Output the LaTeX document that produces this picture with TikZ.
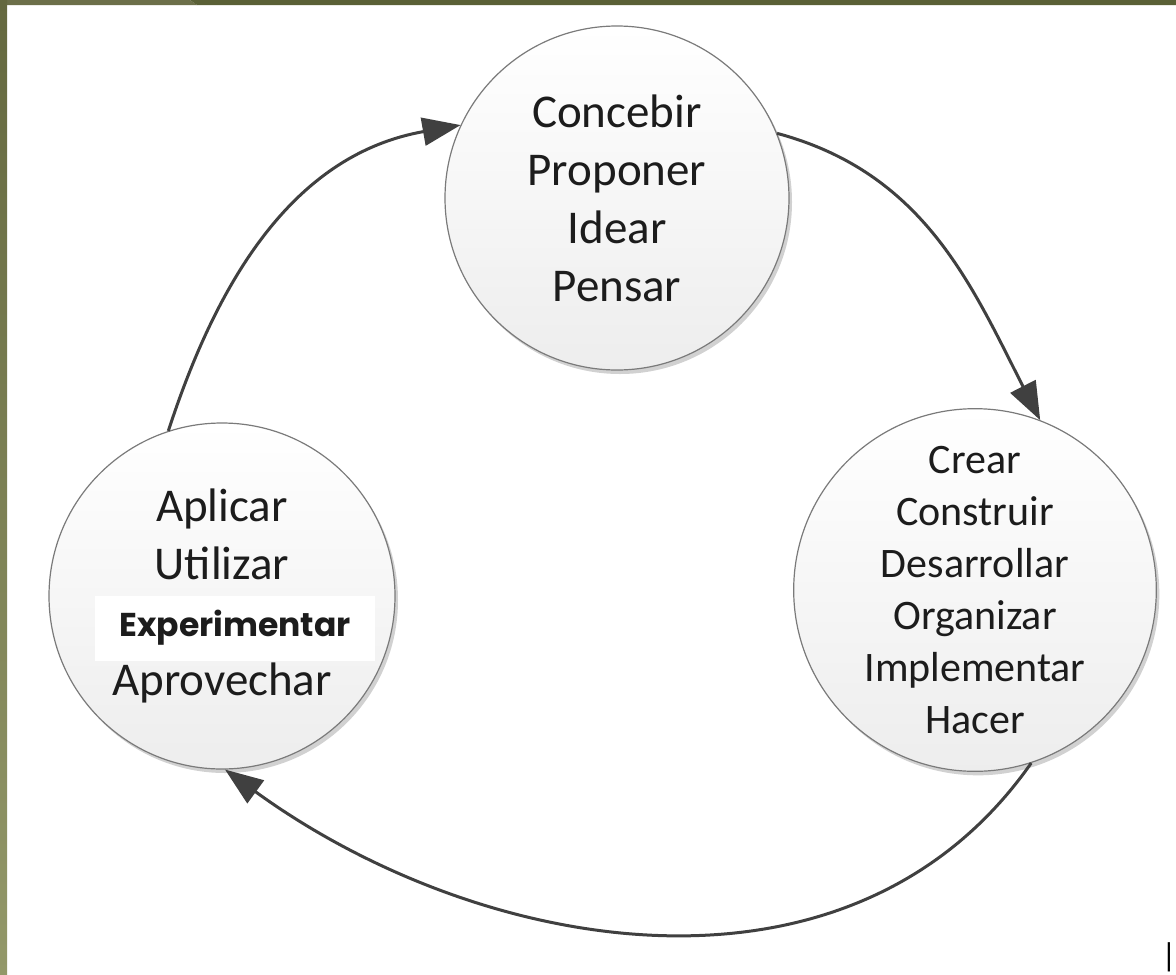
\documentclass[tikz,border=0pt]{standalone}
\usepackage{fontspec}
\setmainfont{Carlito}
\newfontfamily\expfont{Poppins}
\usetikzlibrary{arrows.meta, shadows}

\definecolor{olivaA}{HTML}{64683F}
\definecolor{olivaB}{HTML}{939869}
\definecolor{olivaC}{HTML}{5A6036}
\definecolor{borde}{HTML}{7A7A7A}
\definecolor{flechagris}{HTML}{404040}
\definecolor{texto}{HTML}{1C1C1C}

\begin{document}
\begin{tikzpicture}
	[x=1pt,y=-1pt,
	 fase/.style={circle,draw=borde,line width=1.2pt,top color=white,bottom color=black!7,
	   inner sep=0pt,align=center,text=texto,
	   drop shadow={shadow xshift=3pt,shadow yshift=-4pt,fill=black!40,opacity=.45}},
	 flecha/.style={draw=flechagris,line width=3pt,-{Triangle[length=38pt,width=28pt]}}]

	\useasboundingbox (0,0) rectangle (1176,975);
	\fill[white] (0,0) rectangle (1176,975);
	% marco
	\fill[olivaA!95!white] (0,0) -- (190,0) -- (197,5) -- (0,5) -- cycle;
	\fill[olivaC] (190,0) -- (1176,0) -- (1176,5) -- (197,5) -- cycle;
	\shade[top color=olivaA,bottom color=olivaB] (0,0) rectangle (7,975);

	\node[fase,minimum size=344pt,font=\fontsize{47}{58}\selectfont] (concebir) at (617,198)
		{Concebir\\Proponer\\Idear\\Pensar};
	\node[fase,minimum size=334pt,font=\fontsize{42}{52}\selectfont] (crear) at (975,590)
		{Crear\\Construir\\Desarrollar\\Organizar\\Implementar\\Hacer};
	\node[fase,minimum size=346pt,font=\fontsize{47}{58}\selectfont] (aplicar) at (222,596)
		{Aplicar\\Utilizar\\[58pt]Aprovechar};
	\node[fill=white,minimum width=280pt,minimum height=65pt,text=texto,
		font=\expfont\bfseries\fontsize{33}{40}\selectfont] (experimentar) at (235,628) {Experimentar};

	%\draw[flecha] (aplicar) -- (concebir);
	\draw[flecha] (aplicar.108) to[out=72,in=190] (concebir.155);
	\draw[flecha] (concebir.22) to[out=-15,in=117] (crear.69);
	\draw[flecha] (crear.-72) to[out=-125,in=-36] (aplicar.-89);

	\node[anchor=south,inner sep=0pt,font=\fontsize{33}{33}\selectfont] (barra) at (1169,972) {|};
\end{tikzpicture}
\end{document}
